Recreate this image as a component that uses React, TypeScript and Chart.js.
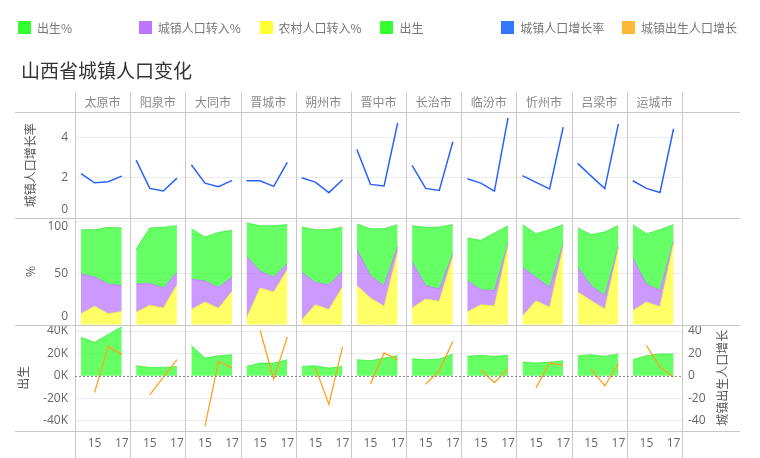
import React, { useEffect, useRef } from 'react';
import { Chart, registerables } from 'chart.js';

Chart.register(...registerables);

// ---------- data ----------
const cities = ['太原市', '阳泉市', '大同市', '晋城市', '朔州市', '晋中市', '长治市', '临汾市', '忻州市', '吕梁市', '运城市'];
const years = [14, 15, 16, 17];
const yearTicks = [15, 17];

// 城镇人口增长率
const urbanGrowthRate = [
  [2.21, 1.76, 1.81, 2.09],
  [2.88, 1.48, 1.35, 1.99],
  [2.65, 1.74, 1.56, 1.88],
  [1.86, 1.86, 1.58, 2.77],
  [2.01, 1.79, 1.27, 1.91],
  [3.41, 1.68, 1.6, 4.72],
  [2.62, 1.48, 1.38, 3.79],
  [1.96, 1.74, 1.35, 4.97],
  [2.11, 1.78, 1.45, 4.51],
  [2.72, 2.09, 1.47, 4.67],
  [1.86, 1.48, 1.28, 4.43],
];

// 农村人口转入%
const ruralInPct = [
  [10.7, 17.8, 10.7, 12.9],
  [12.0, 18.8, 16.2, 38.8],
  [14.6, 22.0, 15.9, 32.4],
  [6.5, 35.6, 31.7, 53.4],
  [4.5, 19.4, 14.6, 36.6],
  [37.9, 25.9, 17.8, 70.6],
  [16.2, 24.9, 22.7, 66.3],
  [12.3, 19.4, 18.1, 77.0],
  [8.1, 23.3, 16.8, 76.1],
  [31.7, 23.3, 15.2, 74.4],
  [13.6, 22.0, 17.5, 79.3],
];

// 城镇人口转入%
const urbanInPct = [
  [38.8, 28.5, 28.8, 25.0],
  [27.5, 21.3, 19.4, 12.0],
  [29.7, 20.4, 20.3, 13.6],
  [59.8, 16.2, 14.6, 5.8],
  [46.3, 21.7, 24.2, 15.2],
  [34.9, 21.7, 20.1, 5.5],
  [44.6, 13.3, 11.9, 2.3],
  [30.4, 14.6, 14.9, 2.3],
  [47.6, 22.7, 19.4, 2.2],
  [24.3, 14.6, 13.0, 1.7],
  [51.1, 17.5, 15.8, 1.6],
];

// 出生%
const birthPct = [
  [42.7, 45.9, 55.0, 56.0],
  [34.0, 53.8, 58.9, 45.3],
  [48.9, 42.7, 53.4, 45.6],
  [32.4, 44.3, 49.8, 37.9],
  [44.0, 51.1, 53.4, 43.0],
  [24.9, 45.6, 55.3, 21.0],
  [35.3, 56.3, 60.2, 28.5],
  [41.4, 47.9, 56.0, 16.8],
  [41.4, 42.3, 56.0, 18.8],
  [37.9, 49.5, 61.8, 20.3],
  [32.4, 48.8, 58.9, 16.2],
];

// 出生
const births = [
  [34500, 30000, 36900, 43800],
  [9000, 7500, 7500, 8400],
  [27000, 15900, 18000, 18900],
  [8400, 11400, 11400, 14400],
  [8400, 9000, 6900, 8400],
  [14400, 13500, 15900, 18000],
  [15300, 14400, 15000, 19500],
  [17400, 18300, 17400, 18300],
  [12300, 11400, 12300, 13500],
  [18000, 18900, 17400, 19500],
  [14400, 18000, 19500, 19500],
];

// 城镇出生人口增长
const urbanBirthGrowth = [
  [null, -15.0, 26.4, 18.9],
  [null, -17.1, -1.2, 14.4],
  [null, -45.0, 12.9, 6.9],
  [null, 40.5, -3.0, 34.8],
  [null, 7.5, -25.5, 25.8],
  [null, -7.2, 20.4, 14.4],
  [null, -7.5, 4.5, 30.9],
  [null, 5.4, -6.0, 6.0],
  [null, -10.5, 11.4, 9.6],
  [null, 6.0, -9.0, 10.8],
  [null, 27.3, 7.8, -1.2],
];

const rateTicks = [0, 2, 4];
const pctTicks = [0, 50, 100];
const birthTicks = [-40000, -20000, 0, 20000, 40000];
const growthTicks = [-40, -20, 0, 20, 40];

const legendItems = [
  { label: '出生%', color: '#33ff33' },
  { label: '城镇人口转入%', color: '#bb77ff' },
  { label: '农村人口转入%', color: '#ffff33' },
  { label: '出生', color: '#33ff33' },
  { label: '城镇人口增长率', color: '#3377ff' },
  { label: '城镇出生人口增长', color: '#ffb833' },
];

// ---------- styling ----------
const NUM_FONT = '"Open Sans", "DejaVu Sans", sans-serif';
const CJK_FONT = '"Noto Sans CJK SC", "Noto Sans", sans-serif';
const GREEN_FILL = 'rgba(51,255,51,0.75)';
const PURPLE_FILL = 'rgba(187,119,255,0.75)';
const YELLOW_FILL = 'rgba(255,255,51,0.75)';
const BLUE_LINE = '#2a62ff';
const ORANGE_LINE = '#ffa21f';
const TABLE_LINE = '#c8c8c8';
const GRID_LINE = '#ececec';

const PANEL = 4.06; // x-units per city panel
const PAD = 0.44; // offset of the first year inside a panel
const xOf = (ci: number, year: number) => ci * PANEL + (year - years[0]) + PAD;

const LEFT_W = 63;
const RIGHT_W = 78;

// label shifts (px) for ticks sitting on a pane edge
const edgeShift = (axis: string, v: number | undefined): number => {
  if (axis === 'y1' && v === 0) return -9;
  if (axis === 'y2' && v === 0) return -8;
  if (axis === 'y2' && v === 100) return 5;
  return 0;
};
const shiftedLabel = (text: string, shift: number) =>
  shift === 0 ? text : shift < 0 ? [text, ''] : ['', text];
const tickFont = (axis: string) => (c: any) => {
  const s = edgeShift(axis, c && c.tick ? c.tick.value : undefined);
  return { family: NUM_FONT, size: 12, lineHeight: s === 0 ? 1.2 : (2 * Math.abs(s)) / 12 };
};

const tablePlugin = {
  id: 'tableLines',
  afterDatasetsDraw(chart: any) {
    const { ctx, scales } = chart;
    ctx.save();
    ctx.strokeStyle = TABLE_LINE;
    ctx.lineWidth = 1;
    ctx.beginPath();
    [scales.y1.top, scales.y1.bottom, scales.y2.bottom, scales.y3.bottom].forEach((y: number) => {
      const yy = Math.round(y) + 0.5;
      ctx.moveTo(15, yy);
      ctx.lineTo(740, yy);
    });
    for (let i = 0; i <= cities.length; i++) {
      const x = Math.round(scales.x.getPixelForValue(i * PANEL)) + 0.5;
      ctx.moveTo(x, 92);
      ctx.lineTo(x, chart.height);
    }
    ctx.stroke();
    // zero line of the bottom row
    const y0 = Math.round(scales.y3.getPixelForValue(0)) + 0.5;
    ctx.strokeStyle = '#888';
    ctx.setLineDash([2, 2]);
    ctx.beginPath();
    ctx.moveTo(chart.chartArea.left, y0);
    ctx.lineTo(chart.chartArea.right, y0);
    ctx.stroke();
    ctx.setLineDash([]);
    // right axis title (reads bottom to top)
    ctx.translate(722, (scales.y3.top + scales.y3.bottom) / 2);
    ctx.rotate(-Math.PI / 2);
    ctx.font = `12px ${CJK_FONT}`;
    ctx.fillStyle = '#555';
    ctx.textAlign = 'center';
    ctx.textBaseline = 'middle';
    ctx.fillText('城镇出生人口增长', 0, 0);
    ctx.restore();
  },
};

function buildDatasets() {
  const ds: any[] = [];
  cities.forEach((_, ci) => {
    const pts = (arr: (number | null)[]) =>
      years
        .map((yr, k) => ({ x: xOf(ci, yr), y: arr[k] }))
        .filter((p) => p.y !== null && p.y !== undefined);
    ds.push({
      label: '城镇人口增长率', data: pts(urbanGrowthRate[ci]), yAxisID: 'y1', xAxisID: 'x',
      borderColor: BLUE_LINE, borderWidth: 1.5, pointRadius: 0, fill: false, order: 0,
    });
    ds.push({
      label: '农村人口转入%', data: pts(ruralInPct[ci]), yAxisID: 'y2', xAxisID: 'x',
      borderColor: 'rgba(240,240,40,0.8)', borderWidth: 0.8, backgroundColor: YELLOW_FILL,
      pointRadius: 0, fill: 'origin', order: 1,
    });
    ds.push({
      label: '城镇人口转入%', data: pts(urbanInPct[ci]), yAxisID: 'y2', xAxisID: 'x',
      borderColor: 'rgba(180,110,250,0.8)', borderWidth: 0.8, backgroundColor: PURPLE_FILL,
      pointRadius: 0, fill: '-1', order: 1,
    });
    ds.push({
      label: '出生%', data: pts(birthPct[ci]), yAxisID: 'y2', xAxisID: 'x',
      borderColor: 'rgba(40,230,40,0.8)', borderWidth: 0.8, backgroundColor: GREEN_FILL,
      pointRadius: 0, fill: '-1', order: 1,
    });
    ds.push({
      label: '出生', data: pts(births[ci]), yAxisID: 'y3', xAxisID: 'x',
      borderColor: 'rgba(40,230,40,0.8)', borderWidth: 0.8, backgroundColor: GREEN_FILL,
      pointRadius: 0, fill: 'origin', order: 1,
    });
    ds.push({
      label: '城镇出生人口增长', data: pts(urbanBirthGrowth[ci]), yAxisID: 'y3r', xAxisID: 'x',
      borderColor: ORANGE_LINE, borderWidth: 1.3, pointRadius: 0, fill: false, order: 0,
    });
  });
  return ds;
}

const leftAxis = (
  axis: string, weight: number, min: number, max: number, ticks: number[],
  title: string, titlePad: number, fmt: (v: number) => string, stacked = false,
) => ({
  type: 'linear',
  position: 'left',
  stack: 'rows',
  stackWeight: 1,
  weight,
  stacked,
  min,
  max,
  afterBuildTicks: (s: any) => { s.ticks = ticks.map((v) => ({ value: v })); },
  afterFit: (s: any) => { s.width = LEFT_W; },
  grid: {
    drawTicks: false,
    color: (c: any) => (c.tick && c.tick.value === 0 ? 'rgba(0,0,0,0)' : GRID_LINE),
  },
  border: { display: false },
  ticks: {
    autoSkip: false,
    padding: 7,
    color: '#666',
    font: tickFont(axis),
    callback: (v: any) => shiftedLabel(fmt(Number(v)), edgeShift(axis, Number(v))),
  },
  title: {
    display: true,
    text: title,
    color: '#555',
    font: { family: CJK_FONT, size: 12, lineHeight: 1.2 },
    padding: { top: titlePad, bottom: 0 },
  },
});

export default function App() {
  const ref = useRef<HTMLCanvasElement>(null);

  useEffect(() => {
    document.body.style.margin = '0';
    const canvas = ref.current;
    if (!canvas) return;
    const chart = new Chart(canvas, {
      type: 'line',
      data: { datasets: buildDatasets() },
      plugins: [tablePlugin as any],
      options: {
        animation: false,
        responsive: false,
        events: [],
        layout: { padding: { left: 12, right: 0, top: 93.6, bottom: 2.6 } },
        elements: { line: { tension: 0 } },
        plugins: { legend: { display: false }, tooltip: { enabled: false }, title: { display: false } },
        scales: {
          x: {
            type: 'linear',
            position: 'bottom',
            min: 0,
            max: cities.length * PANEL,
            afterBuildTicks: (s: any) => {
              s.ticks = cities.flatMap((_, ci) => yearTicks.map((yr) => ({ value: xOf(ci, yr) })));
            },
            grid: { display: false, drawTicks: false },
            border: { display: false },
            ticks: {
              autoSkip: false,
              maxRotation: 0,
              padding: 5,
              color: '#666',
              font: { family: NUM_FONT, size: 12, lineHeight: 1.2 },
              callback: (v: any) => {
                const local = Number(v) - Math.floor(Number(v) / PANEL + 1e-9) * PANEL;
                return String(Math.round(local - PAD + years[0]));
              },
            },
          },
          xTop: {
            type: 'category',
            position: 'top',
            labels: cities,
            offset: true,
            grid: { display: false, drawTicks: false },
            border: { display: false },
            ticks: {
              autoSkip: false,
              maxRotation: 0,
              padding: 2,
              color: '#888',
              font: { family: CJK_FONT, size: 12, lineHeight: 1.2 },
            },
          },
          y1: leftAxis('y1', 3, 0, 5.26, rateTicks, '城镇人口增长率', 10.8, (v) => String(v)),
          y2: leftAxis('y2', 2, 0, 103.2, pctTicks, '%', 11, (v) => String(v), true),
          y3: leftAxis('y3', 1, -49300, 45700, birthTicks, '出生', 3.8, (v) => `${v / 1000}K`),
          y1r: { type: 'linear', position: 'right', stack: 'rows', stackWeight: 1, weight: 1, display: false },
          y2r: { type: 'linear', position: 'right', stack: 'rows', stackWeight: 1, weight: 2, display: false },
          y3r: {
            type: 'linear',
            position: 'right',
            stack: 'rows',
            stackWeight: 1,
            weight: 3,
            min: -49.3,
            max: 45.7,
            afterBuildTicks: (s: any) => { s.ticks = growthTicks.map((v) => ({ value: v })); },
            afterFit: (s: any) => { s.width = RIGHT_W; },
            grid: { display: false, drawTicks: false },
            border: { display: false },
            ticks: { autoSkip: false, padding: 6, color: '#666', font: { family: NUM_FONT, size: 12, lineHeight: 1.2 } },
            title: { display: false },
          },
        } as any,
      },
    } as any);
    return () => chart.destroy();
  }, []);

  return (
    <div style={{ position: 'relative', width: 760, height: 458, overflow: 'hidden', background: '#fff' }}>
      <canvas ref={ref} width={760} height={458} style={{ position: 'absolute', left: 0, top: 0 }} />
      {legendItems.map((it, i) => (
        <div
          key={it.label}
          style={{
            position: 'absolute', left: 18 + i * 120.8, top: 18, height: 18,
            display: 'flex', alignItems: 'center', whiteSpace: 'nowrap',
            fontFamily: CJK_FONT, fontSize: 12, color: '#777',
          }}
        >
          <span style={{ display: 'inline-block', width: 13, height: 13, background: it.color, marginRight: 6 }} />
          <span>{it.label}</span>
        </div>
      ))}
      <div
        style={{
          position: 'absolute', left: 21, top: 57, lineHeight: '26px',
          fontFamily: CJK_FONT, fontSize: 19, color: '#333', whiteSpace: 'nowrap',
        }}
      >
        山西省城镇人口变化
      </div>
    </div>
  );
}
